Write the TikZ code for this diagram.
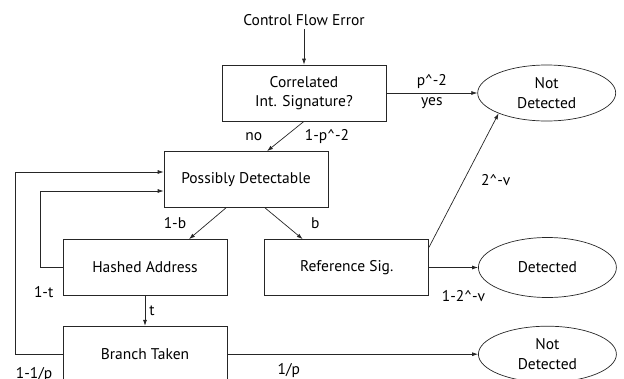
\documentclass[tikz,border=0pt]{standalone}
\usepackage{fontspec}
\setmainfont{PT Sans}
\usetikzlibrary{shapes.geometric, arrows.meta, positioning, calc}
\tikzstyle{arrow} = [->, >={Latex[length=6pt,width=4pt]}, line width=0.7pt, draw=black!85]
\tikzstyle{box} = [draw=black!85, line width=0.7pt, rectangle, minimum width=164pt, minimum height=56pt]
\tikzstyle{outcome} = [draw=black!85, line width=0.7pt, ellipse, minimum width=138pt, minimum height=56pt]

\begin{document}
\begin{tikzpicture}[x=1pt, y=1pt, every node/.style={font=\fontsize{15.5}{19.5}\selectfont, inner sep=3pt}, align=center]
\path[use as bounding box, clip] (0,0) rectangle (624,-378);
% Nodes
\node (cfe) at (304,-20) {Control Flow Error};
\node (corr) [box] at (304,-93) {Correlated \\ Int. Signature?};
\node (notdet1) [outcome, right=91pt of corr] {Not \\ Detected};
\node (possdet) [box] at (246,-179.5) {Possibly Detectable};
\node (hashed) [box] at (145,-267.5) {Hashed Address};
\node (refsig) [box, right=37pt of hashed] {Reference Sig.};
\node (det) [outcome, minimum height=60pt, right=49pt of refsig] {Detected};
\node (branch) [box, below=30pt of hashed] {Branch Taken};
\node (notdet2) [outcome] at (det |- branch) {Not \\ Detected};

% Edges
\draw [arrow] (cfe) -- (corr);
\draw [arrow] (corr) -- node[above=1pt] {p\textasciicircum-2} node[below=1pt] {yes} (notdet1);
\draw [arrow] (corr.south) -- node[left=20pt] {no} node[right=16pt] {1-p\textasciicircum-2} ([xshift=21pt]possdet.north);
\draw [arrow] ([xshift=-20pt]possdet.south) -- node[left=18pt] {1-b} ([xshift=44pt]hashed.north);
\draw [arrow] ([xshift=19pt]possdet.south) -- node[right=24pt] {b} ([xshift=-44pt]refsig.north);
\draw [arrow] (hashed) -- node[right=1pt] {t} (branch);
\draw [arrow] (hashed.west) node[anchor=east, xshift=-6pt, yshift=-25pt] {1-t} -- ++(-22,0) |- ([yshift=-11.5pt]possdet.west);
\draw [arrow] (branch.west) node[anchor=east, xshift=-7pt, yshift=-20.5pt] {1-1/p} -- ++(-47,0) |- ([yshift=7.5pt]possdet.west);
\draw [arrow] (refsig) -- node[below=20pt, xshift=10pt] {1-2\textasciicircum-v} (det);
\draw [arrow] ([yshift=-8pt]refsig.north east) -- node[right=14pt] {2\textasciicircum-v} (notdet1.203);
\draw [arrow] (branch) -- node[pos=0.245, below=6pt] {1/p} (notdet2);
\end{tikzpicture}
\end{document}
